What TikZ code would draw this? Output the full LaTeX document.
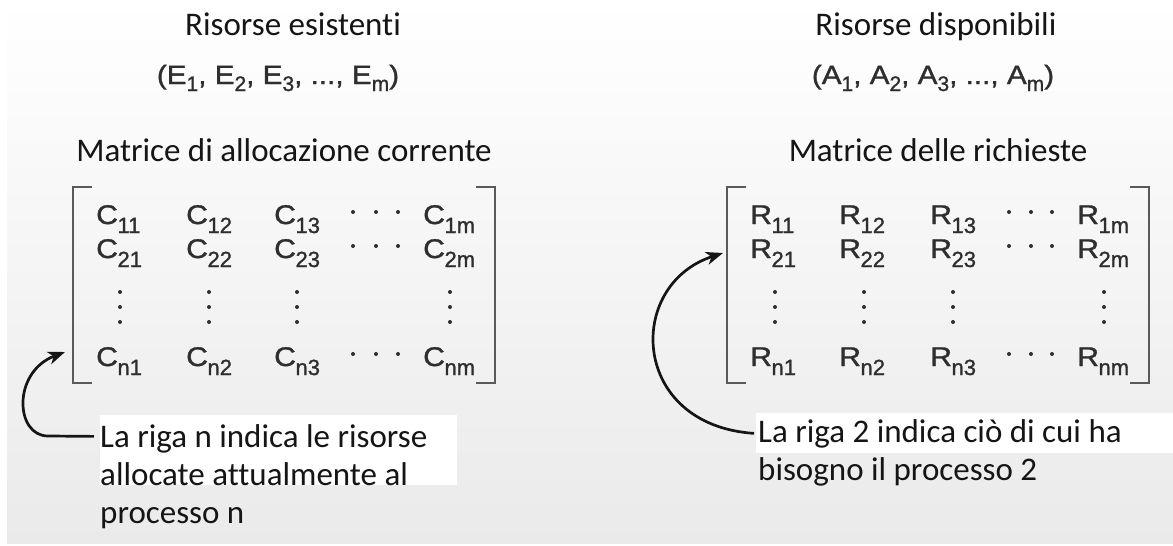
\documentclass[tikz,border=0pt]{standalone}
\usepackage{fontspec}
\setmainfont{Carlito}[Ligatures={NoCommon}]
\newfontfamily\mfont[FakeStretch=1.12,FakeBold=1.2]{Liberation Sans}
\newfontfamily\sfont[FakeBold=1.2]{Liberation Sans}
\usetikzlibrary{arrows.meta}
\definecolor{mgray}{HTML}{2E2E2E}
\definecolor{bgray}{HTML}{5A5A5A}
\definecolor{txt}{HTML}{151515}
\definecolor{bgbot}{HTML}{EAEAEA}
\newcommand{\Mel}[2]{{\mfont\fontsize{27}{27}\selectfont #1\kern-0.5pt\raisebox{-9pt}{\sfont\fontsize{22}{22}\selectfont #2}}}
\newcommand{\Sbx}[1]{\raisebox{-7pt}{\sfont\fontsize{21}{21}\selectfont #1}}
\tikzset{
  lbl/.style={font=\fontsize{33}{38}\selectfont, text=txt, inner sep=0pt, anchor=base west},
  ttl/.style={font=\fontsize{33}{38}\selectfont, text=txt, inner sep=0pt, anchor=base},
  ent/.style={inner sep=0pt, anchor=base west, text=mgray},
  tup/.style={inner sep=0pt, anchor=base, text=mgray, font=\mfont\fontsize{26.5}{26.5}\selectfont},
  brk/.style={draw=bgray, line width=2pt},
  dotc/.style={fill=mgray, draw=none},
  callout/.style={draw=txt, line width=2.7pt, -{Stealth[length=17pt,width=13pt,inset=5pt]}},
}
\begin{document}
\begin{tikzpicture}[x=1pt,y=-1pt]
\useasboundingbox (0,0) rectangle (1173,546);
\fill[white] (0,0) rectangle (1173,546);
\shade[top color=white, bottom color=bgbot] (7,0) rectangle (1173,543);

% titles
\node[ttl] (tE) at (293,35) {Risorse esistenti};
\node[tup] (vE) at (278,84) {(E\Sbx{1}, E\Sbx{2}, E\Sbx{3}, ..., E\Sbx{m})};
\node[ttl] (mC) at (284,161) {Matrice di allocazione corrente};
\node[ttl] (tA) at (936,35) {Risorse disponibili};
\node[tup] (vA) at (933,84) {(A\Sbx{1}, A\Sbx{2}, A\Sbx{3}, ..., A\Sbx{m})};
\node[ttl] (mR) at (938,161) {Matrice delle richieste};

% brackets
\draw[brk] (92,187) -- (73,187) -- (73,383) -- (92,383);
\draw[brk] (476,187) -- (495,187) -- (495,383) -- (476,383);
\draw[brk] (746,187) -- (727,187) -- (727,383) -- (746,383);
\draw[brk] (1130,187) -- (1149,187) -- (1149,383) -- (1130,383);

% left matrix
\foreach \c/\x in {1/96,2/186,3/274}{
  \node[ent] (C1\c) at (\x,224) {\Mel{C}{1\c}};
  \node[ent] (C2\c) at (\x,258) {\Mel{C}{2\c}};
  \node[ent] (Cn\c) at (\x,366) {\Mel{C}{n\c}};
}
\node[ent] (C1m) at (423,224) {\Mel{C}{1m}};
\node[ent] (C2m) at (423,258) {\Mel{C}{2m}};
\node[ent] (Cnm) at (423,366) {\Mel{C}{nm}};
% right matrix
\foreach \c/\x in {1/750,2/839,3/930}{
  \node[ent] (R1\c) at (\x,224) {\Mel{R}{1\c}};
  \node[ent] (R2\c) at (\x,258) {\Mel{R}{2\c}};
  \node[ent] (Rn\c) at (\x,366) {\Mel{R}{n\c}};
}
\node[ent] (R1m) at (1077,224) {\Mel{R}{1m}};
\node[ent] (R2m) at (1077,258) {\Mel{R}{2m}};
\node[ent] (Rnm) at (1077,366) {\Mel{R}{nm}};

% dots
\foreach \x in {120,209,297,450,775,864,953,1104}
  \foreach \y in {292,307,322}
    \fill[dotc] (\x,\y) circle[radius=2pt];
\foreach \x in {353,376,398,1009,1031,1052}
  \foreach \y in {212,246,354}
    \fill[dotc] (\x,\y) circle[radius=2pt];

% label boxes
\fill[white] (100,415) rectangle (457,485);
\fill[white] (756,413) rectangle (1173,453);
\node[lbl] (L1) at (100,447) {La riga n indica le risorse};
\node[lbl] (L2) at (100,485) {allocate attualmente al};
\node[lbl] (L3) at (100,523) {processo n};
\node[lbl] (Q1) at (758,442) {La riga 2 indica ciò di cui ha};
\node[lbl] (Q2) at (758,480) {bisogno il processo 2};

% arrows
\coordinate (tipL) at (65,352);
\coordinate (tipR) at (723,253);
\draw[callout] ([xshift=-6pt,yshift=2pt]L1.west) -- (48,436) .. controls (15,436) and (12,372) .. (tipL);
\draw[callout] ([xshift=-4pt]Q1.west) .. controls (630,425) and (625,285) .. (tipR);
\end{tikzpicture}
\end{document}
